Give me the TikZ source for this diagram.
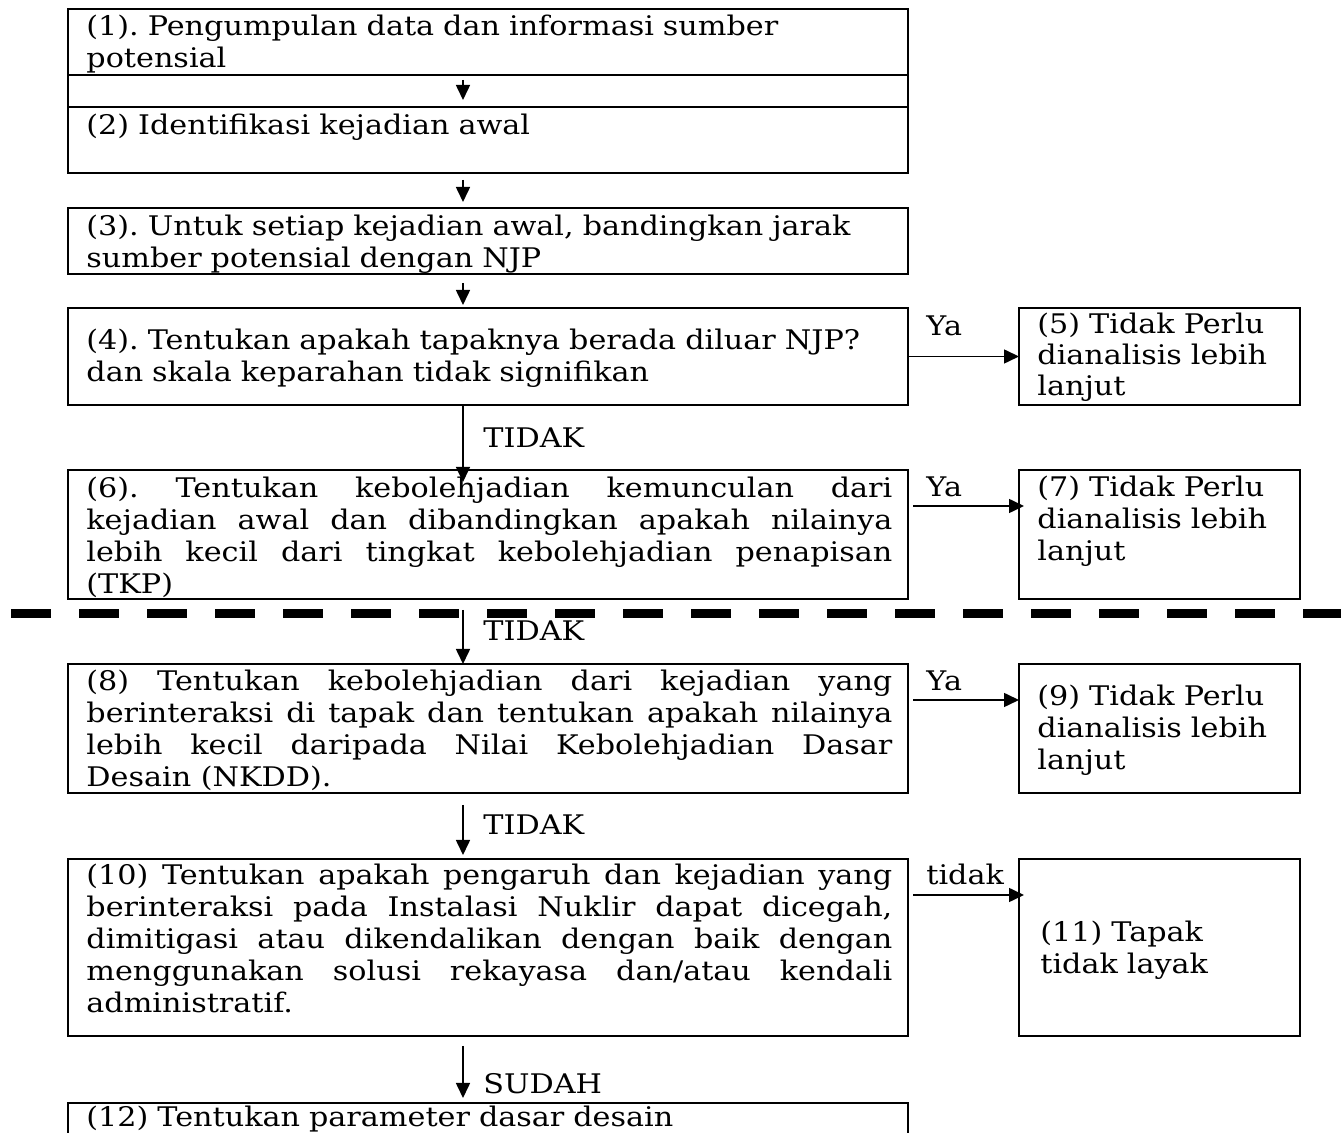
\documentclass[tikz,border=0pt]{standalone}
\usepackage{fontspec}
\setmainfont{DejaVu Serif}[FakeStretch=1.12]
\usetikzlibrary{positioning,arrows.meta}
\frenchspacing

\tikzset{
  box/.style = {draw, line width=1pt, rectangle, minimum width=420pt, inner sep=0pt, outer sep=0pt},
  sidebox/.style = {draw, line width=1pt, rectangle, minimum width=140.5pt, inner sep=0pt, outer sep=0pt},
  txt/.style = {anchor=base west, inner sep=0pt, yshift=-1.25pt, text width=403pt, align=left},
  stxt/.style = {anchor=base west, inner sep=0pt, yshift=-1.25pt, text width=125pt, align=left},
  jtxt/.style = {anchor=base west, inner sep=0pt, yshift=-1.25pt, text width=403pt, align=justify},
  lbl/.style = {anchor=base west, inner sep=0pt, yshift=-1.25pt},
  arr/.style = {-{Triangle[length=7.5pt,width=7pt]}, line width=0.8pt},
}

\begin{document}
\begin{tikzpicture}[x=0.5pt, y=-0.5pt, font=\fontsize{13.5}{16}\selectfont]
	\useasboundingbox (0,0) rectangle (1341,1133);
	% left column
	\node[box, minimum height=33pt, anchor=north west] (b1) at (68,9) {};
	\node[box, minimum height=33pt] (b2) [below=16pt of b1] {};
	\node[box, minimum height=33pt] (b3) [below=17.5pt of b2] {};
	\node[box, minimum height=48.5pt] (b4) [below=17pt of b3] {};
	\node[box, minimum height=64.5pt] (b6) [below=32.5pt of b4] {};
	\node[box, minimum height=64.5pt] (b8) [below=32.5pt of b6] {};
	\node[box, minimum height=88.5pt] (b10) [below=33pt of b8] {};
	\node[box, minimum height=30pt] (b12) [below=33.5pt of b10] {};
	\draw[line width=1pt] (b1.south west) rectangle (b2.north east);
	% right column
	\node[sidebox, minimum height=48.5pt] (b5) [right=55.5pt of b4] {};
	\node[sidebox, minimum height=64.5pt] (b7) [right=55.5pt of b6] {};
	\node[sidebox, minimum height=64.5pt] (b9) [right=55.5pt of b8] {};
	\node[sidebox, minimum height=88.5pt] (b11) [right=55.5pt of b10] {};

	% texts
	\node[txt] (t1) at ([xshift=9pt,yshift=-12pt]b1.north west) {(1). Pengumpulan data dan informasi sumber\\potensial};
	\node[txt] (t2) at ([xshift=9pt,yshift=-12.5pt]b2.north west) {(2) Identifikasi kejadian awal};
	\node[txt] (t3) at ([xshift=9pt,yshift=-12.5pt]b3.north west) {(3). Untuk setiap kejadian awal, bandingkan jarak\\sumber potensial dengan NJP};
	\node[txt] (t4) at ([xshift=9pt,yshift=-19.5pt]b4.north west) {(4). Tentukan apakah tapaknya berada diluar NJP?\\dan skala keparahan tidak signifikan};
	\node[stxt, font=\fontsize{13.5}{15.5}\selectfont] (t5) at ([xshift=9pt,yshift=-11.5pt]b5.north west) {(5) Tidak Perlu\\dianalisis lebih\\lanjut};
	\node[jtxt] (t6) at ([xshift=9pt,yshift=-12.5pt]b6.north west) {(6). Tentukan kebolehjadian kemunculan dari\linebreak kejadian awal dan dibandingkan apakah nilainya\linebreak lebih kecil dari tingkat kebolehjadian penapisan\linebreak (TKP)};
	\node[stxt] (t7) at ([xshift=9pt,yshift=-12pt]b7.north west) {(7) Tidak Perlu\\dianalisis lebih\\lanjut};
	\node[jtxt] (t8) at ([xshift=9pt,yshift=-12pt]b8.north west) {(8) Tentukan kebolehjadian dari kejadian yang\linebreak berinteraksi di tapak dan tentukan apakah nilainya\linebreak lebih kecil daripada Nilai Kebolehjadian Dasar\linebreak Desain (NKDD).};
	\node[stxt] (t9) at ([xshift=9pt,yshift=-19.5pt]b9.north west) {(9) Tidak Perlu\\dianalisis lebih\\lanjut};
	\node[jtxt] (t10) at ([xshift=9pt,yshift=-11.5pt]b10.north west) {(10) Tentukan apakah pengaruh dan kejadian yang\linebreak berinteraksi pada Instalasi Nuklir dapat dicegah,\linebreak dimitigasi atau dikendalikan dengan baik dengan\linebreak menggunakan solusi rekayasa dan/atau kendali\linebreak administratif.};
	\node[stxt] (t11) at ([xshift=10.5pt,yshift=-40pt]b11.north west) {(11) Tapak\\tidak layak};
	\node[txt] (t12) at ([xshift=9pt,yshift=-10.5pt]b12.north west) {(12) Tentukan parameter dasar desain};

	% separator
	\draw[line width=4.5pt, dash pattern=on 20pt off 14pt] (11,614) -- (1341,614);

	% connectors
	\coordinate (col) at (463,0);
	\draw[arr, shorten <=2.5pt, shorten >=3.5pt] (b1.south -| col) -- (b2.north -| col);
	\draw[arr, shorten <=3.5pt, shorten >=3pt] (b2.south -| col) -- (b3.north -| col);
	\draw[arr, shorten <=4.5pt, shorten >=1.5pt] (b3.south -| col) -- (b4.north -| col);
	\draw[arr, shorten >=-6pt] (b4.south -| col) -- (b6.north -| col);
	\draw[arr, shorten <=5.5pt] (b6.south -| col) -- (b8.north -| col);
	\draw[arr, shorten <=6pt, shorten >=2pt] (b8.south -| col) -- (b10.north -| col);
	\draw[arr, shorten <=5pt, shorten >=2.5pt] (b10.south -| col) -- (b12.north -| col);
	\draw[arr] (b4.east) -- (b5.west);
	\draw[arr, shorten <=2.5pt, shorten >=-2.5pt] ([yshift=-18pt]b6.north east) -- ([yshift=-18pt]b7.north west);
	\draw[arr, shorten <=2.5pt] ([yshift=-18pt]b8.north east) -- ([yshift=-18pt]b9.north west);
	\draw[arr, shorten <=2.5pt, shorten >=-2.5pt] ([yshift=-18pt]b10.north east) -- ([yshift=-18pt]b11.north west);

	% labels
	\node[lbl] (ya4) at (926,333) {Ya};
	\node[lbl] (ya6) at (926,494) {Ya};
	\node[lbl] (ya8) at (926,688) {Ya};
	\node[lbl] (no10) at (926,882) {tidak};
	\node[lbl] (no4) at (483,445) {TIDAK};
	\node[lbl] (no6) at (483,638) {TIDAK};
	\node[lbl] (no8) at (483,832) {TIDAK};
	\node[lbl] (yes10) at (483,1091) {SUDAH};
\end{tikzpicture}
\end{document}
